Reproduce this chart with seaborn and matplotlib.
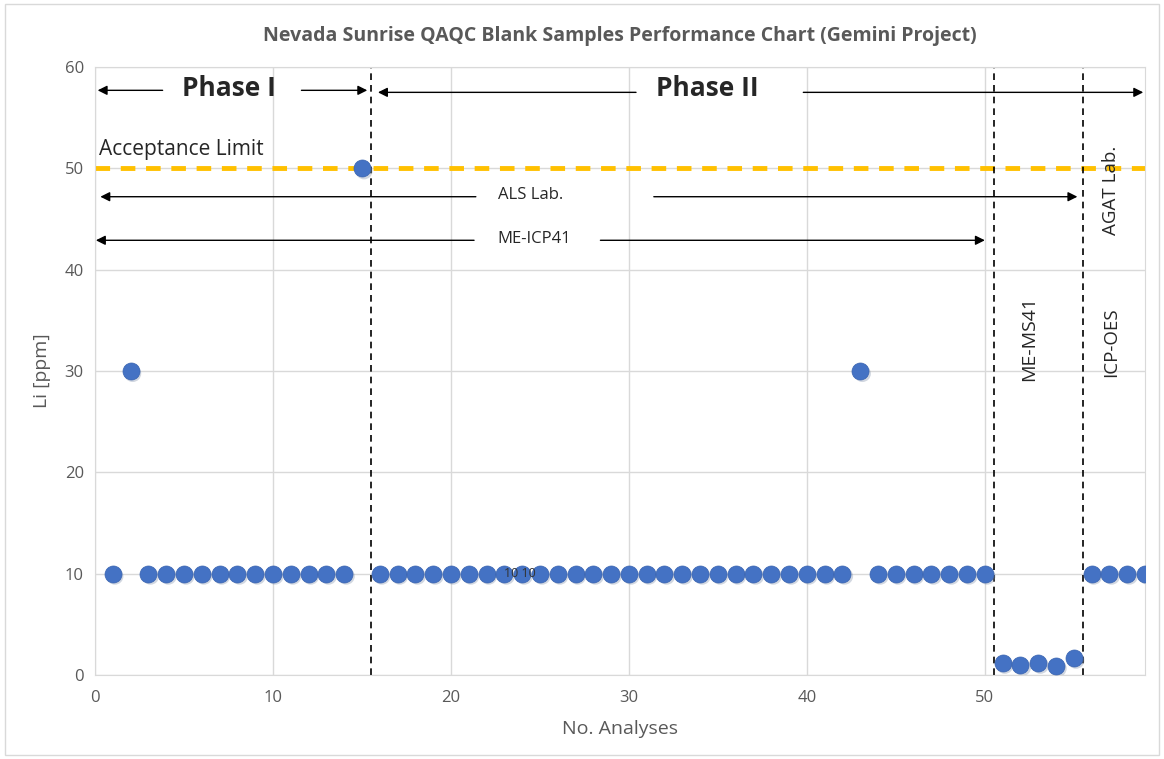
import numpy as np
import pandas as pd
import matplotlib.pyplot as plt
import seaborn as sns
from matplotlib.patches import Rectangle

# Li blank results, one per analysis
analysis_no = list(range(1, 60))
li_ppm = ([10, 30] + [10] * 12 + [50] + [10] * 27 + [30] + [10] * 7
          + [1.2, 1.0, 1.2, 0.9, 1.7] + [10] * 4)
acceptance_limit = 50
boundaries = [15.5, 50.5, 55.5]

sns.set_style("whitegrid")
plt.rcParams['font.family'] = ['Open Sans', 'DejaVu Sans']

df = pd.DataFrame({'No': analysis_no, 'Li': li_ppm})

fig = plt.figure(figsize=(11.64, 7.59), dpi=100)
ax = fig.add_axes([0.0816, 0.1107, 0.9021, 0.801])

# acceptance limit
ax.axhline(acceptance_limit, color='#FFC000', lw=3.5, ls=(0, (3, 2.2)), zorder=2)

# lab / method boundaries
for b in boundaries:
    ax.axvline(b, color='black', lw=1.2, ls=(0, (4, 3)), zorder=2)

# shadow then points
ax.scatter(df['No'] + 0.12, df['Li'] - 0.25, s=150, color='#7f8fa8', alpha=0.35,
           edgecolor='none', zorder=3)
sns.scatterplot(data=df, x='No', y='Li', s=150, color='#4472C4', edgecolor='#3a64b0',
                linewidth=0.5, ax=ax, zorder=4, legend=False)

ax.set_xlim(0, 59)
ax.set_ylim(0, 60)
ax.set_xticks(range(0, 60, 10))
ax.set_yticks(range(0, 61, 10))
ax.grid(True, color='#d9d9d9', lw=1)
for s in ax.spines.values():
    s.set_color('#d9d9d9')
ax.tick_params(axis='both', colors='#595959', labelsize=12, length=0, pad=8)
ax.tick_params(axis='x', pad=11)
ax.set_xlabel('No. Analyses', fontsize=14, color='#595959', labelpad=10)
ax.set_ylabel('Li [ppm]', fontsize=14, color='#595959', labelpad=10)
ax.set_title('Nevada Sunrise QAQC Blank Samples Performance Chart (Gemini Project)',
             fontsize=14, fontweight='bold', color='#595959', pad=19)


def arrow(x0, x1, y):
    ax.annotate('', xy=(x1, y), xytext=(x0, y),
                arrowprops=dict(arrowstyle='-|>', color='black', lw=1,
                                mutation_scale=14, shrinkA=0, shrinkB=0),
                zorder=5)


# Phase I / Phase II
arrow(3.8, 0.15, 57.7)
arrow(11.6, 15.3, 57.7)
ax.text(7.5, 57.9, 'Phase I', fontsize=19, fontweight='bold', ha='center', va='center')
arrow(30.4, 15.9, 57.5)
arrow(39.8, 58.9, 57.5)
ax.text(34.4, 57.9, 'Phase II', fontsize=19, fontweight='bold', ha='center', va='center')

ax.text(0.2, 51.9, 'Acceptance Limit', fontsize=15, ha='left', va='center')

# ALS Lab.
arrow(21.4, 0.3, 47.2)
arrow(31.4, 55.2, 47.2)
ax.text(24.5, 47.4, 'ALS Lab.', fontsize=12, ha='center', va='center')

# ME-ICP41
arrow(21.3, 0.05, 42.9)
arrow(28.4, 50.0, 42.9)
ax.text(24.7, 43.0, 'ME-ICP41', fontsize=12, ha='center', va='center')

ax.text(52.5, 33.2, 'ME-MS41', fontsize=14, rotation=90, ha='center', va='center')
ax.text(57.1, 32.8, 'ICP-OES', fontsize=13.5, rotation=90, ha='center', va='center')
ax.text(57.1, 47.8, 'AGAT Lab.', fontsize=13.5, rotation=90, ha='center', va='center')

# stray data labels
ax.text(23.9, 10.0, '10 10', fontsize=9, color='#333333', ha='center', va='center', zorder=6)

fig.patches.append(Rectangle((0.004, 0.005), 0.992, 0.99, transform=fig.transFigure,
                             fill=False, edgecolor='#d9d9d9', lw=1))

fig.savefig('out.png', dpi=100)
